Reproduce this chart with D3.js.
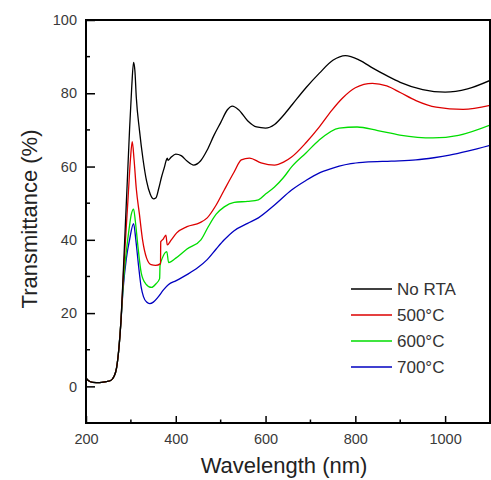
<!DOCTYPE html>
<html>
<head>
<meta charset="utf-8">
<script src="https://cdn.jsdelivr.net/npm/d3@7"></script>
<style>
  body { margin: 0; background: #fff; }
  text { font-family: "Liberation Sans", Arial, sans-serif; }
</style>
</head>
<body>
<script>
// values: [wavelength nm, transmittance %]
var base = [[200, 2.2], [205, 1.6], [215, 1.1], [230, 1.0], [245, 1.3], [255, 1.6],
  [262, 2.6], [268, 5], [273, 10], [278, 18]];

var noRta = [[283, 31], [288, 45], [292, 56], [297, 70], [302, 82], [306, 88.4], [309, 86],
  [312, 79], [319, 70], [327, 62], [335, 56], [343, 52.5], [350, 51.2], [356, 51.5],
  [362, 54], [368, 57], [375, 60], [378, 61.4], [381, 62.3], [383, 61.7], [390, 62.6],
  [400, 63.4], [412, 63], [425, 61.5], [440, 60.4], [455, 61.5], [470, 64.5], [485, 68.5],
  [500, 72], [515, 75.5], [526, 76.5], [540, 75.5], [560, 72.5], [580, 70.8], [600, 70.5],
  [620, 71.5], [640, 74], [660, 77], [690, 81.5], [720, 85.5], [750, 89], [778, 90.3],
  [810, 89], [840, 86.8], [870, 84.8], [900, 83], [950, 81], [1000, 80.3], [1050, 81.2],
  [1100, 83.5]];

var rta500 = [[283, 30], [289, 42], [294, 52], [299, 62], [303, 66.8], [307, 62], [312, 54],
  [319, 47], [326, 40], [335, 35], [345, 33.2], [355, 33], [366, 33.5], [366.5, 39.5],
  [372, 40.2], [378, 41.3], [381, 38.6], [390, 40], [402, 41.9], [425, 43.6], [454, 44.7],
  [470, 46], [490, 49.5], [508, 53.6], [530, 58.5], [546, 61.8], [564, 62.3], [590, 61],
  [620, 60.4], [640, 61.2], [658, 62.6], [690, 66.5], [719, 70.7], [748, 75.4],
  [770, 78.5], [800, 81.5], [838, 82.7], [870, 82], [900, 80.2], [935, 78], [980, 76.2],
  [1040, 75.6], [1100, 76.7]];

var rta600 = [[283, 28], [290, 37], [296, 43], [301, 47], [306, 48.4], [310, 45], [315, 39],
  [323, 31], [333, 28], [346, 27], [356, 28], [364, 29.4], [365, 33], [370, 35],
  [380, 36.8], [384, 33.8], [400, 35], [425, 37.5], [456, 40], [472, 43.5], [490, 47],
  [508, 49], [530, 50.2], [560, 50.5], [584, 50.9], [600, 52.5], [620, 54.4], [640, 57],
  [658, 59.9], [690, 63.7], [719, 67.2], [764, 70.5], [804, 70.8], [850, 69.8],
  [899, 68.6], [973, 67.8], [1030, 68.5], [1100, 71.3]];

var rta700 = [[283, 27], [290, 35], [297, 40], [306, 44.4], [311, 40], [317, 33], [323, 27],
  [328, 24.5], [335, 23], [342, 22.6], [350, 23], [360, 24.3], [373, 26.4], [384, 27.8],
  [400, 28.8], [425, 30.5], [450, 32.5], [470, 34.6], [490, 37.5], [508, 40], [530, 42.5],
  [560, 44.5], [584, 46], [620, 49.5], [658, 53.6], [690, 56.2], [719, 58.2], [748, 59.5],
  [764, 60.1], [790, 60.8], [822, 61.2], [880, 61.5], [935, 61.8], [975, 62.4],
  [1010, 63.1], [1050, 64.2], [1100, 65.8]];

var labels = ["No RTA", "500\u00b0C", "600\u00b0C", "700\u00b0C"];
var colors = ["#000000", "#dd0000", "#00dd00", "#0000c0"];
var series = [noRta, rta500, rta600, rta700];

var xTicks = [200, 400, 600, 800, 1000];
var yTicks = [0, 20, 40, 60, 80, 100];

var svg_width = 491, svg_height = 480;
var m_left = 86, m_top = 20, m_right = 490, m_bottom = 423;

var svg = d3.select("body").append("svg")
  .attr("width", svg_width).attr("height", svg_height);

var x = d3.scaleLinear().domain([200, 1100]).range([m_left, m_right]);
var y = d3.scaleLinear().domain([-10, 100]).range([m_bottom, m_top]);

svg.append("defs").append("clipPath").attr("id", "clip")
  .append("rect").attr("x", m_left).attr("y", m_top)
  .attr("width", m_right - m_left).attr("height", m_bottom - m_top);

var line = d3.line()
  .x(function(d) { return x(d[0]); })
  .y(function(d) { return y(d[1]); })
  .curve(d3.curveMonotoneX);

var plot = svg.append("g").attr("clip-path", "url(#clip)");
// draw back to front so black sits on top like the original
for (var i = series.length - 1; i >= 0; i--) {
  plot.append("path")
    .datum(base.concat(series[i]))
    .attr("d", line)
    .attr("fill", "none")
    .attr("stroke", colors[i])
    .attr("stroke-width", 1.3);
}

// frame
svg.append("rect")
  .attr("x", m_left).attr("y", m_top)
  .attr("width", m_right - m_left).attr("height", m_bottom - m_top)
  .attr("fill", "none").attr("stroke", "#000").attr("stroke-width", 2);

// x axis, ticks pointing inward
var xAxis = d3.axisBottom(x).tickValues(xTicks).tickFormat(d3.format("d"))
  .tickSize(-7).tickPadding(11).tickSizeOuter(0);
var gx = svg.append("g").attr("transform", "translate(0," + m_bottom + ")").call(xAxis);
gx.select(".domain").remove();
gx.selectAll(".tick line").attr("stroke", "#000").attr("stroke-width", 1.5);
gx.selectAll("text").attr("font-size", 14.5).attr("fill", "#3a3a3a")
  .attr("font-family", "Liberation Sans, Arial, sans-serif");
svg.append("g").selectAll("line").data([300, 500, 700, 900]).enter().append("line")
  .attr("x1", function(d) { return x(d); }).attr("x2", function(d) { return x(d); })
  .attr("y1", m_bottom).attr("y2", m_bottom - 3.5)
  .attr("stroke", "#000").attr("stroke-width", 1.5);

var yAxis = d3.axisLeft(y).tickValues(yTicks).tickFormat(d3.format("d"))
  .tickSize(-9).tickPadding(9).tickSizeOuter(0);
var gy = svg.append("g").attr("transform", "translate(" + m_left + ",0)").call(yAxis);
gy.select(".domain").remove();
gy.selectAll(".tick line").attr("stroke", "#000").attr("stroke-width", 1.5);
gy.selectAll("text").attr("font-size", 14.5).attr("fill", "#3a3a3a")
  .attr("font-family", "Liberation Sans, Arial, sans-serif");
svg.append("g").selectAll("line").data([10, 30, 50, 70, 90]).enter().append("line")
  .attr("x1", m_left).attr("x2", m_left + 4)
  .attr("y1", function(d) { return y(d); }).attr("y2", function(d) { return y(d); })
  .attr("stroke", "#000").attr("stroke-width", 1.5);

// axis titles
svg.append("text")
  .attr("x", (m_left + m_right) / 2 - 4).attr("y", 473)
  .attr("text-anchor", "middle")
  .attr("font-size", 22).attr("fill", "#222")
  .text("Wavelength (nm)");
svg.append("text")
  .attr("transform", "translate(37,219) rotate(-90)")
  .attr("text-anchor", "middle")
  .attr("font-size", 22).attr("fill", "#222")
  .text("Transmittance (%)");

// legend
var legend = svg.append("g");
labels.forEach(function(lab, i) {
  var ly = 289 + i * 26;
  legend.append("line")
    .attr("x1", 351).attr("x2", 392).attr("y1", ly).attr("y2", ly)
    .attr("stroke", colors[i]).attr("stroke-width", 1.3);
  legend.append("text")
    .attr("x", 397).attr("y", ly + 6)
    .attr("font-size", 17).attr("fill", "#333")
    .text(lab);
});
</script>
</body>
</html>
